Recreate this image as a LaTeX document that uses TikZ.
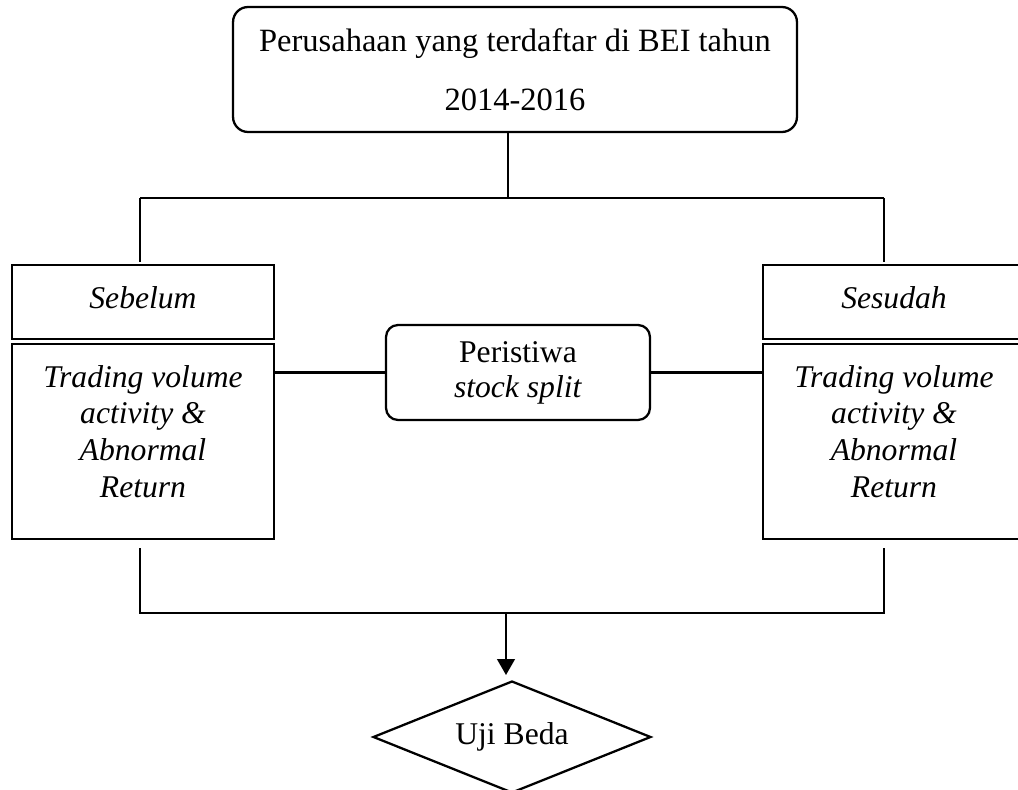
\documentclass[tikz,border=0pt]{standalone}
\usepackage{fontspec}
\setmainfont{Liberation Serif}
\usetikzlibrary{shapes.geometric,arrows.meta}
\begin{document}
\begin{tikzpicture}[x=0.02cm,y=-0.02cm,
  line width=1.3pt,
  roundbox/.style={draw,rounded corners=0.3cm,inner sep=0pt,align=center},
  sqbox/.style={draw,inner sep=0pt,align=center,minimum width=5.24cm},
  conn/.style={line width=1.2pt},
  arr/.style={line width=1.2pt,-{Triangle[width=10pt,length=9pt]}},
  decision/.style={draw,diamond,aspect=2.5,inner sep=0pt,minimum width=5.56cm,minimum height=2.24cm,font={\fontsize{18}{21}\selectfont}}
]
\useasboundingbox (0,0) rectangle (1018,790);

\node[roundbox,minimum width=11.28cm,minimum height=2.5cm,font={\fontsize{18.5}{33.5}\selectfont}]
  (top) at (515,69.5) {Perusahaan yang terdaftar di BEI tahun\\2014-2016};

\node[sqbox,minimum height=1.48cm,font={\itshape\fontsize{18}{21}\selectfont}] (seb) at (143,302) {Sebelum\\[-16pt]\mbox{}};
\node[sqbox,minimum height=1.48cm,font={\itshape\fontsize{18}{21}\selectfont}] (ses) at (894,302) {Sesudah\\[-16pt]\mbox{}};

\node[sqbox,minimum height=3.9cm,font={\itshape\fontsize{18}{21}\selectfont}] (lbox) at (143,441.5)
  {Trading volume\\activity \&\\Abnormal\\Return\\[-9.5pt]\mbox{}};
\node[sqbox,minimum height=3.9cm,font={\itshape\fontsize{18}{21}\selectfont}] (rbox) at (894,441.5)
  {Trading volume\\activity \&\\Abnormal\\Return\\[-9.5pt]\mbox{}};

\node[roundbox,rounded corners=0.24cm,minimum width=5.28cm,minimum height=1.9cm,font={\fontsize{18}{20}\selectfont}]
  (mid) at (518,372.5) {Peristiwa\\\textit{stock split}};

\node[decision] (uji) at (512,737) {Uji Beda};

% top connectors
\coordinate (tj) at (508,198);
\coordinate (lj) at (140,198);
\coordinate (rj) at (884,198);
\draw[conn] (top.south -| tj) -- (tj);
\draw[conn] (lj) -- (rj);
\draw[conn] (lj) -- ([yshift=0.04cm]seb.north -| lj);
\draw[conn] (rj) -- ([yshift=0.04cm]ses.north -| rj);

% middle connectors
\draw[conn] (mid.west -| lbox.east) -- (mid.west);
\draw[conn] (mid.east) -- (mid.east -| rbox.west);

% bottom connectors
\coordinate (lb) at (140,613);
\coordinate (rb) at (884,613);
\coordinate (bj) at (506,613);
\coordinate (aj) at (506,675);
\draw[conn] ([yshift=-0.16cm]lbox.south -| lb) -- (lb) -- (rb) -- ([yshift=-0.16cm]rbox.south -| rb);
\draw[arr] (bj) -- (aj);
\end{tikzpicture}
\end{document}
